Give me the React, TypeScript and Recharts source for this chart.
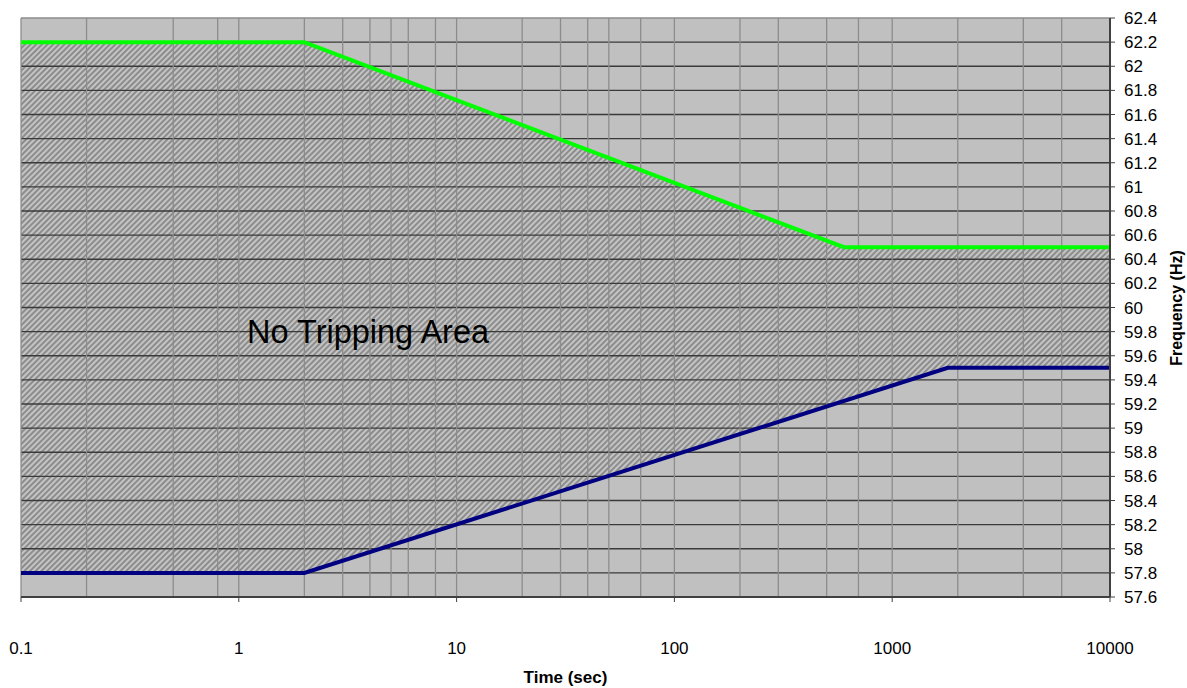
import {
  ComposedChart,
  Area,
  Line,
  XAxis,
  YAxis,
  CartesianGrid,
} from 'recharts';

const FONT = '"Liberation Sans", Arial, sans-serif';

// tick labels
const TIME_TICKS = [0.1, 1, 10, 100, 1000, 10000];
const FREQ_TICKS = [
  57.6, 57.8, 58, 58.2, 58.4, 58.6, 58.8, 59, 59.2, 59.4, 59.6, 59.8, 60,
  60.2, 60.4, 60.6, 60.8, 61, 61.2, 61.4, 61.6, 61.8, 62, 62.2, 62.4,
];
const MINOR_STEPS = [1, 2, 3, 4, 5, 6, 7, 8, 9];
const DECADES = [0.1, 1, 10, 100, 1000];

// over-frequency limit (green)
const OVER_TIME = [0.1, 2, 600, 10000];
const OVER_FREQ = [62.2, 62.2, 60.5, 60.5];

// under-frequency limit (navy)
const UNDER_TIME = [0.1, 2, 1800, 10000];
const UNDER_FREQ = [57.8, 57.8, 59.5, 59.5];

const overData = OVER_TIME.map((t, i) => ({ t, f: OVER_FREQ[i] }));
const underData = UNDER_TIME.map((t, i) => ({ t, f: UNDER_FREQ[i] }));

const verticalGrid = [...DECADES.flatMap((d) => MINOR_STEPS.map((m) => d * m)), 10000];
const innerFreq = FREQ_TICKS.slice(0, -1);

const W = 1187;
const H = 688;

export default function App() {
  return (
    <div
      style={{
        position: 'absolute',
        left: 0,
        top: 0,
        width: W,
        height: H,
        background: '#fff',
        fontFamily: FONT,
      }}
    >
      <ComposedChart
        width={W}
        height={H}
        margin={{ top: 18, right: 27, bottom: 61, left: 21 }}
      >
        <defs>
          <pattern
            id="hatch"
            width="4"
            height="4"
            patternUnits="userSpaceOnUse"
            patternTransform="rotate(45)"
          >
            <rect width="4" height="4" fill="#c4c4c4" />
            <rect width="2" height="4" fill="#8c8c8c" />
          </pattern>
        </defs>
        <CartesianGrid
          fill="#c0c0c0"
          horizontal={false}
          vertical={false}
          zIndex={-200}
        />
        <XAxis
          dataKey="t"
          type="number"
          scale="log"
          domain={[0.1, 10000]}
          ticks={TIME_TICKS}
          allowDataOverflow
          height={30}
          tickSize={5}
          tickMargin={40}
          axisLine={{ stroke: '#404040', strokeWidth: 2 }}
          tickLine={{ stroke: '#404040' }}
          tick={{ fontSize: 17, fill: '#000', fontFamily: FONT }}
        />
        <YAxis
          orientation="right"
          type="number"
          domain={[57.6, 62.4]}
          ticks={FREQ_TICKS}
          interval={0}
          allowDataOverflow
          width={50}
          tickSize={5}
          tickMargin={9}
          axisLine={{ stroke: '#404040', strokeWidth: 2 }}
          tickLine={{ stroke: '#404040' }}
          tick={{ fontSize: 17, fill: '#000', fontFamily: FONT, textAnchor: 'start' }}
        />
        <Area
          data={overData}
          dataKey="f"
          type="linear"
          baseValue={57.6}
          fill="url(#hatch)"
          fillOpacity={1}
          stroke="none"
          isAnimationActive={false}
          zIndex={100}
        />
        <Area
          data={underData}
          dataKey="f"
          type="linear"
          baseValue={57.6}
          fill="#c0c0c0"
          fillOpacity={1}
          stroke="none"
          isAnimationActive={false}
          zIndex={101}
        />
        <CartesianGrid
          vertical={false}
          horizontalValues={innerFreq}
          stroke="#3a3a3a"
          strokeWidth={1.3}
          zIndex={200}
        />
        <CartesianGrid
          horizontal={false}
          verticalValues={verticalGrid}
          stroke="#8c8c8c"
          strokeWidth={1.3}
          zIndex={201}
        />
        <CartesianGrid
          vertical={false}
          horizontalValues={[62.4]}
          stroke="#8c8c8c"
          strokeWidth={1.3}
          zIndex={202}
        />
        <Line
          data={overData}
          dataKey="f"
          type="linear"
          stroke="#00ff00"
          strokeWidth={4}
          dot={false}
          isAnimationActive={false}
          zIndex={300}
        />
        <Line
          data={underData}
          dataKey="f"
          type="linear"
          stroke="#000080"
          strokeWidth={4}
          dot={false}
          isAnimationActive={false}
          zIndex={301}
        />
      </ComposedChart>
      <div
        style={{
          position: 'absolute',
          left: 247,
          top: 316,
          fontSize: 32.5,
          lineHeight: '32px',
          color: '#000',
          whiteSpace: 'nowrap',
        }}
      >
        No Tripping Area
      </div>
      <div
        style={{
          position: 'absolute',
          left: 0,
          width: 1131,
          top: 669,
          textAlign: 'center',
          fontSize: 17,
          fontWeight: 'bold',
          lineHeight: '18px',
        }}
      >
        Time (sec)
      </div>
      <div
        style={{
          position: 'absolute',
          left: 1177,
          top: 308,
          transform: 'translate(-50%, -50%) rotate(-90deg)',
          fontSize: 16,
          fontWeight: 'bold',
          whiteSpace: 'nowrap',
          lineHeight: '18px',
        }}
      >
        Frequency (Hz)
      </div>
    </div>
  );
}
